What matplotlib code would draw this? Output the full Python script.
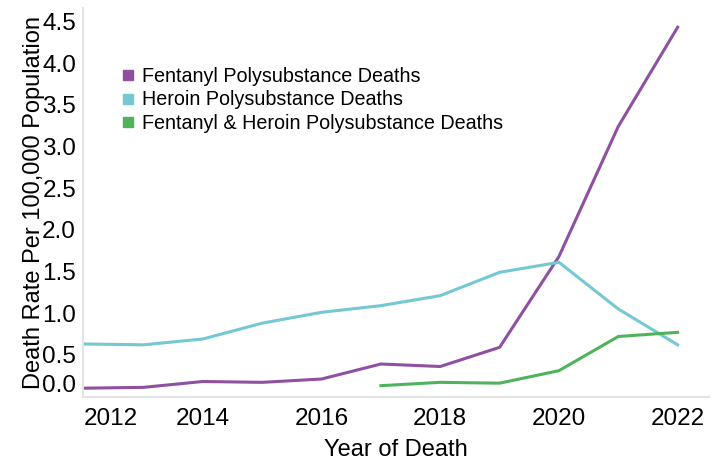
import matplotlib
matplotlib.use("Agg")
from matplotlib import pyplot as plt
from matplotlib.lines import Line2D

plt.rcParams["font.family"] = ["Liberation Sans", "DejaVu Sans"]

years = [2012, 2013, 2014, 2015, 2016, 2017, 2018, 2019, 2020, 2021, 2022]
fentanyl = [0.10, 0.11, 0.18, 0.17, 0.21, 0.39, 0.36, 0.59, 1.68, 3.24, 4.43]
heroin = [0.63, 0.62, 0.69, 0.88, 1.01, 1.09, 1.21, 1.49, 1.61, 1.05, 0.62]
both_years = [2017, 2018, 2019, 2020, 2021, 2022]
both = [0.13, 0.17, 0.16, 0.31, 0.72, 0.77]

labels = [
    "Fentanyl Polysubstance Deaths",
    "Heroin Polysubstance Deaths",
    "Fentanyl & Heroin Polysubstance Deaths",
]
colors = ["#8f50a1", "#74c8d1", "#4fb35b"]
y_ticks = [0.0, 0.5, 1.0, 1.5, 2.0, 2.5, 3.0, 3.5, 4.0, 4.5]
x_ticks = [2012, 2014, 2016, 2018, 2020, 2022]

fig = plt.figure(figsize=(7.19, 4.63), dpi=100)
ax = fig.add_axes([0.1154, 0.1436, 0.870, 0.839])

ax.plot(years, fentanyl, color=colors[0], lw=2.2)
ax.plot(years, heroin, color=colors[1], lw=2.2)
ax.plot(both_years, both, color=colors[2], lw=2.2)

ax.set_xlim(2011.98, 2022.52)
ax.set_ylim(0, 4.66)
ax.set_xticks(x_ticks)
ax.set_yticks(y_ticks)
ax.set_yticklabels([f"{v:.1f}" for v in y_ticks])
ax.tick_params(length=0, labelsize=17.5)
ax.tick_params(axis="y", pad=5)
ax.tick_params(axis="x", pad=8)

for side in ["top", "right"]:
    ax.spines[side].set_visible(False)
for side in ["left", "bottom"]:
    ax.spines[side].set_color("#e3e3e3")
    ax.spines[side].set_linewidth(1.5)

# first labels are nudged so they don't collide at the corner
ax.get_xticklabels()[0].set_horizontalalignment("left")
ax.get_yticklabels()[0].set_verticalalignment("bottom")

ax.set_xlabel("Year of Death", fontsize=17, labelpad=7)
ax.set_ylabel("Death Rate Per 100,000 Population", fontsize=17, labelpad=-2)

handles = [Line2D([], [], ls="none", marker="s", ms=7.5, color=c) for c in colors]
fig.legend(handles, labels, loc="upper left", bbox_to_anchor=(0.168, 0.855),
           frameon=False, fontsize=14.2, handlelength=0.7, handletextpad=0.35,
           labelspacing=0.22, borderpad=0, borderaxespad=0)

fig.savefig("out.png", dpi=100)
